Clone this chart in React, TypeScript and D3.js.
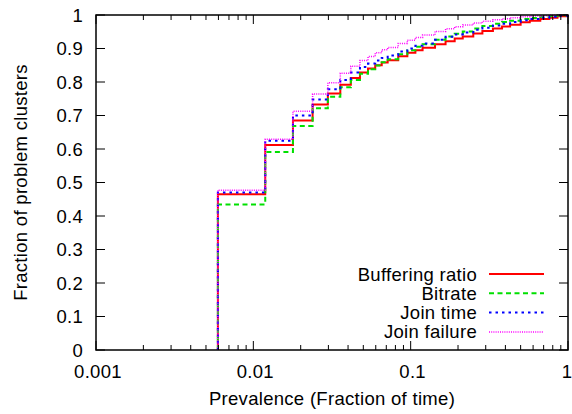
import React, { useEffect, useRef } from "react";
import * as d3 from "d3";

// prevalence steps, in hours out of a week (k / 168)
const steps = [1, 2, 3, 4, 5, 6, 7, 8, 9, 10, 11, 12, 14, 16, 18, 20, 24, 28, 32, 36, 42, 48, 56, 64, 72, 84, 96, 112, 128, 144, 168];

const bufferingRatio = [0.465, 0.612, 0.685, 0.733, 0.766, 0.792, 0.812, 0.828, 0.84, 0.85, 0.858, 0.865, 0.877, 0.887, 0.895, 0.902, 0.913, 0.922, 0.93, 0.936, 0.945, 0.952, 0.96, 0.966, 0.971, 0.978, 0.983, 0.988, 0.992, 0.996, 1];
const bitrate = [0.434, 0.591, 0.669, 0.722, 0.756, 0.784, 0.806, 0.825, 0.838, 0.849, 0.859, 0.868, 0.883, 0.895, 0.905, 0.913, 0.926, 0.936, 0.944, 0.951, 0.96, 0.967, 0.974, 0.979, 0.983, 0.988, 0.991, 0.995, 0.997, 0.999, 1];
const joinTime = [0.47, 0.625, 0.7, 0.748, 0.778, 0.806, 0.828, 0.845, 0.855, 0.864, 0.872, 0.879, 0.891, 0.9, 0.908, 0.915, 0.926, 0.935, 0.942, 0.948, 0.956, 0.962, 0.969, 0.974, 0.979, 0.984, 0.988, 0.992, 0.995, 0.998, 1];
const joinFailure = [0.477, 0.629, 0.713, 0.764, 0.798, 0.826, 0.847, 0.864, 0.876, 0.887, 0.896, 0.903, 0.915, 0.925, 0.933, 0.94, 0.951, 0.959, 0.965, 0.97, 0.976, 0.981, 0.986, 0.989, 0.992, 0.995, 0.997, 0.998, 0.999, 1, 1];

const seriesNames = ["Buffering ratio", "Bitrate", "Join time", "Join failure"];
const xTickValues = [0.001, 0.01, 0.1, 1];
const xTickLabels = ["0.001", "0.01", "0.1", "1"];
const yTickValues = [0, 0.1, 0.2, 0.3, 0.4, 0.5, 0.6, 0.7, 0.8, 0.9, 1];

const styles = [
  { color: "#ff0000", width: 2, dash: null },
  { color: "#00e000", width: 2, dash: "5,3.5" },
  { color: "#0000ff", width: 2, dash: "2.5,4" },
  { color: "#ff00ff", width: 1.5, dash: "1,1.2" },
];

const W = 572;
const H = 414;
const margin = { left: 96, right: 4, top: 15, bottom: 64 };
const FONT = "'Liberation Sans', Arial, Helvetica, sans-serif";

const App = () => {
  const svgRef = useRef<SVGSVGElement>(null);

  useEffect(() => {
    const svg = d3.select(svgRef.current);
    svg.selectAll("*").remove();

    const x = d3.scaleLog().domain([0.001, 1]).range([margin.left, W - margin.right]);
    const y = d3.scaleLinear().domain([0, 1]).range([H - margin.bottom, margin.top]);
    const x0 = x.range()[0], x1 = x.range()[1];
    const y0 = y.range()[0], y1 = y.range()[1];

    const all = [bufferingRatio, bitrate, joinTime, joinFailure];

    // curves
    const line = d3
      .line<[number, number]>()
      .x((d) => x(d[0]))
      .y((d) => y(d[1]))
      .curve(d3.curveStepAfter);

    all.forEach((vals, i) => {
      const pts: [number, number][] = [[steps[0] / 168, 0]];
      steps.forEach((k, j) => pts.push([k / 168, vals[j]]));
      const p = svg
        .append("path")
        .attr("d", line(pts))
        .attr("fill", "none")
        .attr("stroke", styles[i].color)
        .attr("stroke-width", styles[i].width);
      if (styles[i].dash) p.attr("stroke-dasharray", styles[i].dash);
    });

    // ticks (mirrored on all sides)
    const g = svg.append("g").attr("stroke", "#000").attr("stroke-width", 1);
    const minor: number[] = [];
    [0.001, 0.01, 0.1].forEach((d) => {
      for (let m = 2; m <= 9; m++) minor.push(d * m);
    });
    xTickValues.forEach((v) => {
      g.append("line").attr("x1", x(v)).attr("x2", x(v)).attr("y1", y0).attr("y2", y0 - 9);
      g.append("line").attr("x1", x(v)).attr("x2", x(v)).attr("y1", y1).attr("y2", y1 + 9);
    });
    minor.forEach((v) => {
      g.append("line").attr("x1", x(v)).attr("x2", x(v)).attr("y1", y0).attr("y2", y0 - 5);
      g.append("line").attr("x1", x(v)).attr("x2", x(v)).attr("y1", y1).attr("y2", y1 + 5);
    });
    yTickValues.forEach((v) => {
      g.append("line").attr("x1", x0).attr("x2", x0 + 9).attr("y1", y(v)).attr("y2", y(v));
      g.append("line").attr("x1", x1).attr("x2", x1 - 9).attr("y1", y(v)).attr("y2", y(v));
    });

    // border
    svg
      .append("rect")
      .attr("x", x0)
      .attr("y", y1)
      .attr("width", x1 - x0)
      .attr("height", y0 - y1)
      .attr("fill", "none")
      .attr("stroke", "#000")
      .attr("stroke-width", 1.5);

    // tick labels
    const t = svg
      .append("g")
      .attr("font-family", FONT)
      .attr("font-size", 18.5)
      .attr("letter-spacing", 0.3)
      .attr("fill", "#000");
    xTickValues.forEach((v, i) => {
      const last = i === xTickValues.length - 1;
      t.append("text")
        .attr("x", last ? x(v) - 1 : x(v) + 2)
        .attr("y", 378)
        .attr("text-anchor", "middle")
        .text(xTickLabels[i]);
    });
    yTickValues.forEach((v) => {
      t.append("text")
        .attr("x", 83)
        .attr("y", y(v) + 6.5)
        .attr("text-anchor", "end")
        .text(d3.format("~g")(v));
    });

    // axis titles
    t.append("text")
      .attr("x", (x0 + x1) / 2)
      .attr("y", 405)
      .attr("text-anchor", "middle")
      .text("Prevalence (Fraction of time)");
    t.append("text")
      .attr("transform", `translate(27,${(y0 + y1) / 2}) rotate(-90)`)
      .attr("text-anchor", "middle")
      .text("Fraction of problem clusters");

    // legend
    seriesNames.forEach((name, i) => {
      const ly = 274 + i * 19.3;
      t.append("text").attr("x", 477).attr("y", ly + 6.5).attr("text-anchor", "end").text(name);
      const l = svg
        .append("line")
        .attr("x1", 489)
        .attr("x2", 544)
        .attr("y1", ly)
        .attr("y2", ly)
        .attr("stroke", styles[i].color)
        .attr("stroke-width", styles[i].width);
      if (styles[i].dash) l.attr("stroke-dasharray", styles[i].dash);
    });
  }, []);

  return (
    <svg
      ref={svgRef}
      width={W}
      height={H}
      style={{ position: "absolute", left: 0, top: 0, background: "#fff" }}
    />
  );
};

export default App;
